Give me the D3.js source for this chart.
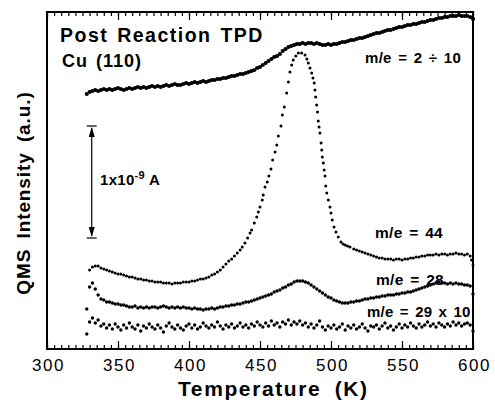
<!DOCTYPE html>
<html>
<head>
<meta charset="utf-8">
<script src="https://cdn.jsdelivr.net/npm/d3@7"></script>
<style>
  body { margin: 0; background: #fff; }
  text { font-family: "Liberation Sans", Arial, Helvetica, sans-serif; fill: #000; }
</style>
</head>
<body>
<svg id="tpd" width="495" height="402"></svg>
<script>
// temperature grid (K) shared by the smooth traces
const tempGrid = d3.range(328, 601, 2);

// m/e = 2 ÷ 10 (a.u.)
const qms2 = [255,257,258,259,258,259,260,259,260,259,260,261,260,259,260,261,260,261,262,261,
  262,261,262,263,262,263,262,263,264,263,264,265,264,264,265,266,265,266,267,266,
  267,268,267,268,269,269,270,270,271,271,272,273,273,274,275,275,276,277,278,279,
  281,282,284,286,288,290,292,293,295,298,300,302,303,304,305,305,306,305,306,306,
  305,306,305,304,304,305,304,305,305,306,307,307,308,309,309,310,311,311,312,313,
  314,315,316,316,317,318,319,319,320,321,322,322,323,324,324,325,325,326,327,327,
  328,329,329,330,331,331,332,332,333,333,333,334,333,333,333,332,330];

// m/e = 28 (a.u.)
const qms28 = [40,62,66,60,54,50,49,47,47,46,45,45,44,44,43,42,42,43,41,42,
  41,42,41,42,42,41,42,43,42,41,42,41,42,41,42,41,41,40,41,40,
  40,39,40,40,41,40,41,42,42,43,43,44,44,45,45,46,47,47,48,49,
  50,51,52,53,54,55,57,58,59,61,62,64,65,67,68,68,68,67,66,64,
  62,60,58,56,54,52,51,49,48,47,46,46,46,47,47,48,48,49,50,50,
  51,51,52,52,53,53,54,54,54,55,55,56,56,57,57,58,59,60,61,62,
  63,64,65,66,67,66,66,65,66,65,66,65,65,64,64,63,55];

// m/e = 29 x 10 (a.u.)
const qms29 = [15,27,31,26,29,23,25,21,24,20,25,22,19,24,21,26,22,20,24,18,
  23,21,25,22,20,24,21,17,23,26,22,20,24,21,19,23,25,21,24,20,
  22,26,23,21,24,22,27,23,20,24,22,25,21,23,26,22,24,21,25,23,
  27,24,22,26,23,28,24,26,22,27,25,29,24,27,25,28,24,26,22,25,
  21,24,28,22,19,23,21,24,20,22,25,19,23,21,24,20,22,25,21,18,
  23,22,24,20,23,26,21,23,19,22,25,21,24,22,26,23,21,25,22,24,
  27,23,25,22,26,24,22,25,23,27,24,26,23,25,26,24,18];

// m/e = 44 has its own temperatures (denser through the peak)
const temp44 = [330,332,334,336,338,340,342,344,346,348,350,352,354,356,358,360,362,364,366,368,
  370,372,374,376,378,380,382,384,386,388,390,392,394,396,398,400,402,404,406,408,
  410,412,414,416,418,420,422,424,426,428,430,432,434,436,
  437.5,439.4,441.3,443,444.1,446,447.7,448.8,450,451.6,452.3,453.5,455.1,456.3,457.7,458.9,
  460.6,461.8,462.9,464.8,465.7,467.1,468.8,470,471.1,472.3,473.4,475.2,477,479.3,481.7,483,
  484,485.2,486.4,487.3,488.2,488.7,489.2,489.9,490.5,491,491.6,492.2,493,493.5,493.9,494.6,
  495.2,495.8,496.3,497,498.1,499.3,500,500.9,502.1,503.5,505.1,507,508.5,509.9,511.6,513.4,
  516,518,520,522,524,526,528,530,532,534,536,538,540,542,544,546,548,550,552,554,
  556,558,560,562,564,566,568,570,572,574,576,578,580,582,584,586,588,590,592,594,
  596,598,599,600];
const qms44 = [79,82,83,83,81,80,79,78,77,76,75,75,74,73,72,72,71,70,70,69,
  69,68,68,67,67,67,66,66,66,65,66,66,66,67,67,67,68,68,69,70,
  70,71,72,74,75,77,79,82,85,88,90,93,96,99,
  102,106,111,116,119,126,132,137,142,149,154,162,167,173,180,189,
  197,204,213,223,234,242,256,267,277,284,289,293,296,296,294,290,
  286,281,276,271,266,259,252,244,237,228,222,216,206,199,192,186,
  179,173,163,156,149,142,136,129,122,117,112,107,105,104,103,102,
  100,99,98,97,96,95,94,93,92,91,91,90,90,90,89,90,90,89,90,90,
  91,91,92,92,93,93,94,94,94,95,94,95,95,94,95,95,96,95,95,94,
  95,93,89,84];

const xTicks = [300, 350, 400, 450, 500, 550, 600];

const svg = d3.select('#tpd');
const margin = { top: 12, right: 22, bottom: 53, left: 47 };
const width = 495 - margin.left - margin.right;
const height = 402 - margin.top - margin.bottom;

const g = svg.append('g').attr('transform', `translate(${margin.left},${margin.top})`);

const x = d3.scaleLinear().domain([300, 600]).range([0, width]);
const y = d3.scaleLinear().domain([0, 337]).range([height, 0]);

// minor + major ticks, bottom and top, pointing inward
function ticks(axisFn, yPos, values, size, labels) {
    const a = g.append('g')
        .attr('transform', `translate(0,${yPos})`)
        .call(axisFn(x).tickValues(values).tickSize(-size).tickPadding(10)
            .tickFormat(labels ? d3.format('d') : ''));
    a.select('.domain').remove();
    a.selectAll('line').attr('stroke', '#000').attr('stroke-width', 1.2);
    return a;
}
ticks(d3.axisBottom, height, d3.range(300, 601, 5), 4, false);
ticks(d3.axisTop, 0, d3.range(300, 601, 5), 4, false);
ticks(d3.axisTop, 0, xTicks, 8, false);
ticks(d3.axisBottom, height, xTicks, 8, true)
    .selectAll('text')
    .style('font-size', '17px')
    .style('letter-spacing', '1.5px')
    .attr('dx', '1px');

// frame
g.append('rect')
    .attr('width', width)
    .attr('height', height)
    .attr('fill', 'none')
    .attr('stroke', '#000')
    .attr('stroke-width', 2);

// traces
function dots(temps, vals, r) {
    g.append('g')
        .selectAll('circle')
        .data(vals.map((v, i) => [temps[i], v]))
        .enter()
        .append('circle')
        .attr('cx', d => x(d[0]))
        .attr('cy', d => y(d[1]))
        .attr('r', r)
        .attr('fill', '#000');
}
dots(tempGrid, qms2, 2.1);
dots(tempGrid, qms28, 1.7);
dots(tempGrid, qms29, 1.7);
dots(temp44, qms44, 1.5);

// scale bar 1x10-9 A
const barX = x(331.5);
const barTop = y(223), barBot = y(111);
const bar = g.append('g').attr('stroke', '#000').attr('stroke-width', 1.2);
bar.append('line').attr('x1', barX).attr('x2', barX).attr('y1', barTop + 2).attr('y2', barBot - 2);
bar.append('line').attr('x1', barX - 5).attr('x2', barX + 5).attr('y1', barTop).attr('y2', barTop);
bar.append('line').attr('x1', barX - 5).attr('x2', barX + 5).attr('y1', barBot).attr('y2', barBot);
g.append('path')
    .attr('d', `M${barX},${barTop + 1}l-3,10h6z M${barX},${barBot - 1}l-3,-10h6z`)
    .attr('fill', '#000');

const sb = g.append('text')
    .attr('x', 53).attr('y', 173)
    .style('font-size', '15px').style('font-weight', 'bold').style('letter-spacing', '0.3px');
sb.append('tspan').text('1x10');
sb.append('tspan').attr('dy', -6).style('font-size', '11px').text('-9');
sb.append('tspan').attr('dy', 6).text(' A');

// labels inside the plot
function label(txt, lx, ly, size, ls) {
    g.append('text')
        .attr('x', lx - margin.left)
        .attr('y', ly - margin.top)
        .style('font-size', size + 'px')
        .style('font-weight', 'bold')
        .style('letter-spacing', ls + 'px')
        .style('word-spacing', '2px')
        .text(txt);
}
label('Post Reaction TPD', 60, 42, 19.5, 1.5);
label('Cu (110)', 62, 67, 18, 1);
label('m/e = 2 \u00f7 10', 365, 63, 15, 0.3);
label('m/e = 44', 375, 238, 15.5, 0.3);
label('m/e = 28', 376, 285, 15.5, 0.3);
label('m/e = 29 x 10', 367, 317, 15, 0.2);

// axis titles
svg.append('text')
    .attr('x', 178).attr('y', 396)
    .style('font-size', '21px').style('font-weight', 'bold')
    .style('letter-spacing', '1.6px').style('word-spacing', '6px')
    .text('Temperature (K)');

svg.append('text')
    .attr('transform', 'rotate(-90)')
    .attr('x', -193).attr('y', 30)
    .attr('text-anchor', 'middle')
    .style('font-size', '19px').style('font-weight', 'bold')
    .style('letter-spacing', '0.9px').style('word-spacing', '4px')
    .text('QMS Intensity (a.u.)');
</script>
</body>
</html>
